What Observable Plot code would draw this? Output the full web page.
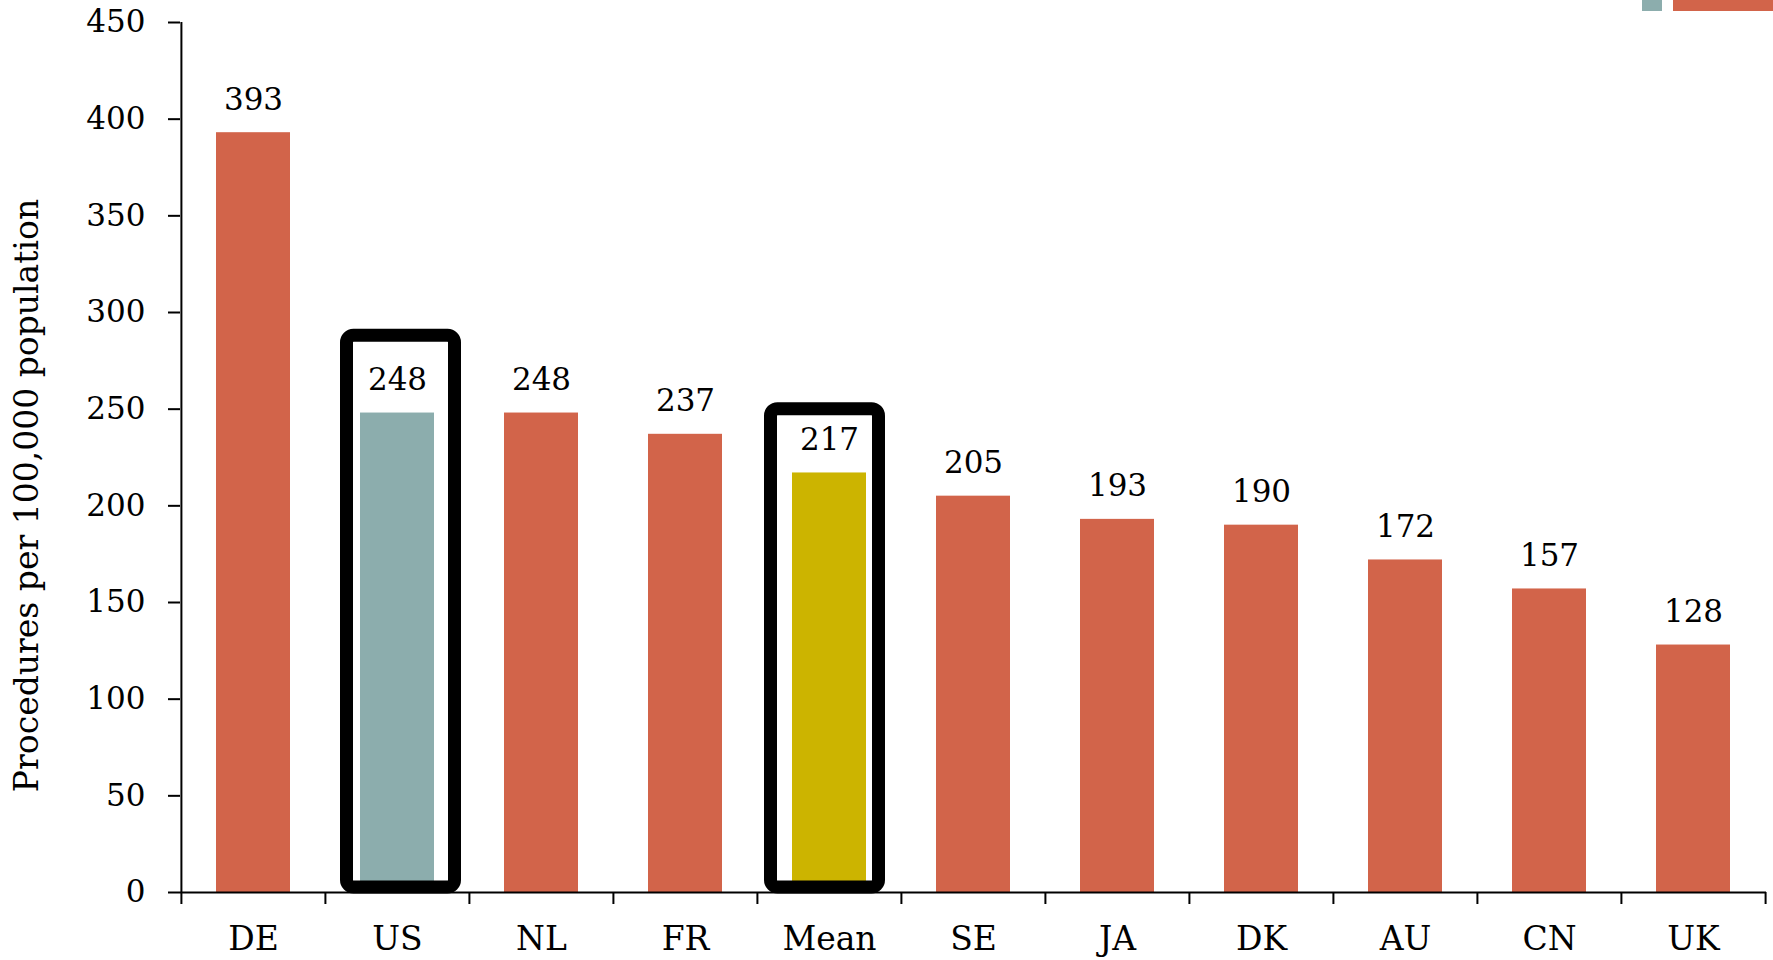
<!DOCTYPE html>
<html>
<head>
<meta charset="utf-8">
<script src="https://cdn.jsdelivr.net/npm/d3@7"></script>
<script src="https://cdn.jsdelivr.net/npm/@observablehq/plot@0.6"></script>
<style>
  html, body { margin: 0; padding: 0; background: #fff; }
  #wrap { position: relative; width: 1773px; height: 960px; overflow: hidden; }
  .leg { position: absolute; top: 0; height: 11px; }
</style>
</head>
<body>
<div id="wrap"></div>
<script>
const categories = ["DE", "US", "NL", "FR", "Mean", "SE", "JA", "DK", "AU", "CN", "UK"];
const values = [393, 248, 248, 237, 217, 205, 193, 190, 172, 157, 128];
const groups = ["other", "US", "other", "other", "mean", "other", "other", "other", "other", "other", "other"];
const yTicks = [0, 50, 100, 150, 200, 250, 300, 350, 400, 450];
const boxCategories = ["US", "Mean"];
const boxTops = [288, 250];
const yTitle = "Procedures per 100,000 population";

const W = 1773, H = 960;
const mL = 180, mR = 7, mT = 22, mB = 68;
const step = (W - mL - mR) / categories.length;

const data = categories.map((c, i) => ({cat: c, value: values[i], group: groups[i]}));
const boxes = boxCategories.map((c, i) => ({cat: c, top: boxTops[i]}));

const font = "'DejaVu Serif', 'Liberation Serif', serif";
const boxStyle = {fill: "none", stroke: "#000", strokeWidth: 13, rx: 7, insetBottom: 5};

const chart = Plot.plot({
  width: W,
  height: H,
  marginLeft: mL,
  marginRight: mR,
  marginTop: mT,
  marginBottom: mB,
  style: {fontFamily: font, fontSize: "31px", color: "#000", background: "#fff"},
  x: {domain: categories, paddingInner: 0.487, paddingOuter: 0.2435, label: null},
  y: {domain: [0, 450], label: null},
  color: {domain: ["other", "US", "mean"], range: ["#D2644A", "#8CADAD", "#CCB400"]},
  marks: [
    Plot.barY(data, {x: "cat", y: "value", fill: "group"}),
    Plot.text(data, {x: "cat", y: "value", text: d => String(d.value), dy: -33, lineAnchor: "middle", fontSize: 31, fill: "#000"}),
    Plot.barY(boxes.filter(b => b.cat === "US"), {x: "cat", y1: 0, y2: "top", ...boxStyle, insetLeft: -13.5, insetRight: -20.5}),
    Plot.barY(boxes.filter(b => b.cat === "Mean"), {x: "cat", y1: 0, y2: "top", ...boxStyle, insetLeft: -21.5, insetRight: -12.5}),
    Plot.ruleY([0], {stroke: "#000", strokeWidth: 2}),
    Plot.ruleX(categories, {x: d => d, dx: -step / 2, y1: 0, y2: d => d === categories[0] ? 450 : 0, insetTop: 12, stroke: "#000", strokeWidth: 2}),
    Plot.ruleX([categories[categories.length - 1]], {x: d => d, dx: step / 2, y1: 0, y2: 0, insetTop: 12, stroke: "#000", strokeWidth: 2}),
    Plot.axisY({ticks: yTicks, tickSize: 12, tickPadding: 23, tickFormat: d => String(d), label: null, stroke: "#000", strokeWidth: 2}),
    Plot.axisX({tickSize: 0, tickPadding: 34, fontSize: 33, label: null}),
    Plot.text([yTitle], {frameAnchor: "left", text: d => d, rotate: -90, textAnchor: "middle", dx: -153, dy: 38, fontSize: 33, fill: "#000"})
  ]
});

const wrap = document.getElementById("wrap");
wrap.appendChild(chart);

// legend fragment at top right (cut off by the edge in the reference)
const legendColors = ["#8CADAD", "#D2644A"];
const legendLefts = [1642, 1673];
const legendWidths = [20, 110];
legendColors.forEach((c, i) => {
  const d = document.createElement("div");
  d.className = "leg";
  d.style.left = legendLefts[i] + "px";
  d.style.width = legendWidths[i] + "px";
  d.style.background = c;
  wrap.appendChild(d);
});
</script>
</body>
</html>
